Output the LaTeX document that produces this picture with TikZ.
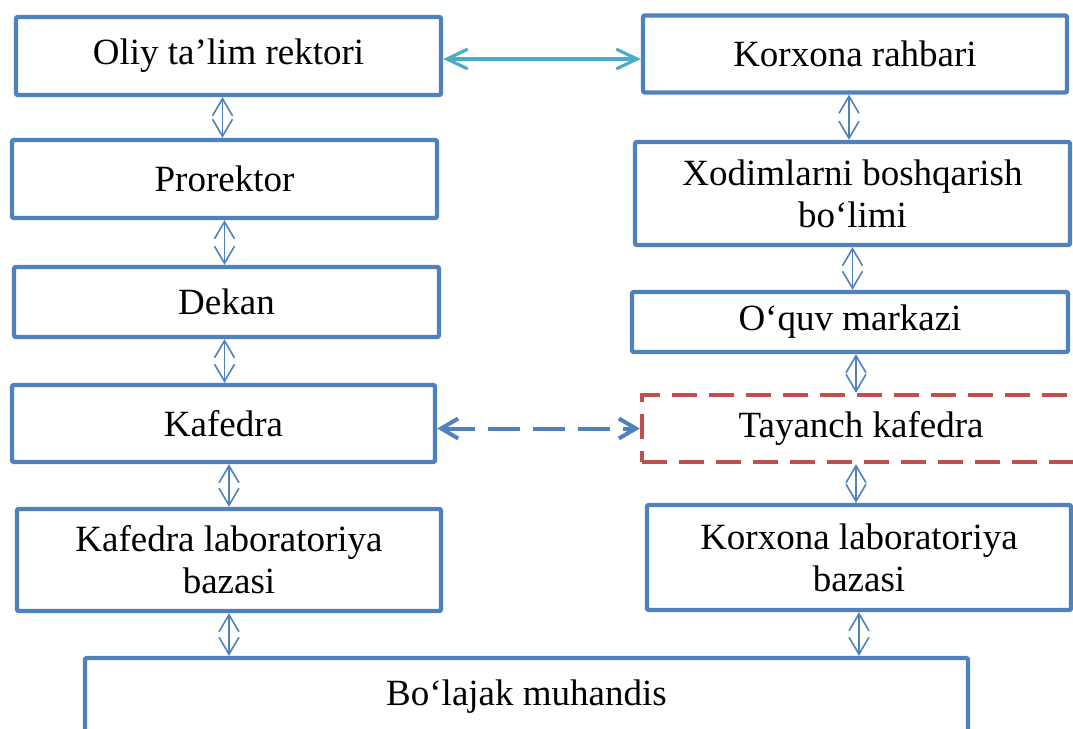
\documentclass[tikz,border=0pt]{standalone}
\usepackage{fontspec}
\setmainfont{Liberation Serif}
\usepackage{tikz}
\usetikzlibrary{positioning,arrows.meta,calc}
\definecolor{boxblue}{HTML}{4F81BD}
\definecolor{linkcyan}{HTML}{4BACC6}
\definecolor{tayred}{HTML}{C0504D}
\tikzset{
  unit/.style={draw=boxblue,line width=2.2pt,fill=white,rounded corners=1pt,align=center,inner sep=2pt,font=\fontsize{18.5pt}{21pt}\selectfont},
  basebox/.style={unit,draw=tayred,dash pattern=on 12.5pt off 6pt,rounded corners=0pt},
  vlink/.style={{Straight Barb[length=8.5pt,width=10pt]}-{Straight Barb[length=8.5pt,width=10pt]},line width=0.8pt,draw=boxblue},
  toplink/.style={{Straight Barb[length=10pt,width=9.5pt,line cap=round]}-{Straight Barb[length=10pt,width=9.5pt,line cap=round]},line width=1.6pt,draw=linkcyan},
  dashlink/.style={{Straight Barb[length=8.5pt,width=10pt]}-{Straight Barb[length=8.5pt,width=10pt]},line width=2pt,draw=boxblue,dash pattern=on 16pt off 6.5pt},
}
\begin{document}
\begin{tikzpicture}[x=0.5pt,y=-0.5pt]
  \useasboundingbox (0,0) rectangle (1073,729);
  \clip (0,0) rectangle (1073,729);
  % university side
  \node[unit,minimum width=212.5pt,minimum height=39pt] (rektor) at (228.5,56) {Oliy ta’lim rektori};
  \node[unit,minimum width=212.5pt,minimum height=39pt] (prorektor) at (224.5,179) {Prorektor};
  \node[unit,minimum width=212.5pt,minimum height=35pt] (dekan) at (226.5,302) {Dekan};
  \node[unit,minimum width=211.5pt,minimum height=38.5pt] (kafedra) at (223.5,423.5) {Kafedra};
  \node[unit,minimum width=212pt,minimum height=51pt] (kaflab) at (229,560) {Kafedra laboratoriya\\bazasi};
  % enterprise side
  \node[unit,minimum width=212pt,minimum height=38.5pt] (rahbar) at (855,54) {Korxona rahbari};
  \node[unit,minimum width=217.5pt,minimum height=51.5pt] (xodim) at (852.5,193.5) {Xodimlarni boshqarish\\bo‘limi};
  \node[unit,minimum width=218pt,minimum height=30pt] (markaz) at (850,322) {O‘quv markazi};
  \node[basebox,minimum width=219pt,minimum height=33.5pt] (tayanch) at (861,428.5) {Tayanch kafedra};
  \node[unit,minimum width=212pt,minimum height=52.5pt] (korlab) at (859,557.5) {Korxona laboratoriya\\bazasi};
  \node[unit,minimum width=441.5pt,minimum height=45pt,text depth=10pt] (muhandis) at (526.5,703) {Bo‘lajak muhandis};
  % links
  \draw[toplink] ([yshift=-1.5pt]rektor.east) -- ([yshift=-1.5pt]rektor.east -| rahbar.west);
  \draw[dashlink] (kafedra.east |- tayanch.west) -- (tayanch.west);
  \draw[vlink] ([xshift=-3pt]rektor.south) -- ([xshift=-3pt]rektor.south |- prorektor.north);
  \draw[vlink] (prorektor.south) -- (prorektor.south |- dekan.north);
  \draw[vlink] ([xshift=-1pt]dekan.south) -- ([xshift=-1pt]dekan.south |- kafedra.north);
  \draw[vlink] (kaflab.north |- kafedra.south) -- (kaflab.north);
  \draw[vlink] (kaflab.south) -- (kaflab.south |- muhandis.north);
  \draw[vlink] ([xshift=-3pt]rahbar.south) -- ([xshift=-3pt]rahbar.south |- xodim.north);
  \draw[vlink] (xodim.south) -- (xodim.south |- markaz.north);
  \draw[vlink] ([xshift=3pt]markaz.south) -- ([xshift=3pt]markaz.south |- tayanch.north);
  \draw[vlink] ([xshift=-2.5pt]tayanch.south) -- ([xshift=-2.5pt]tayanch.south |- korlab.north);
  \draw[vlink] (korlab.south) -- (korlab.south |- muhandis.north);
\end{tikzpicture}
\end{document}
